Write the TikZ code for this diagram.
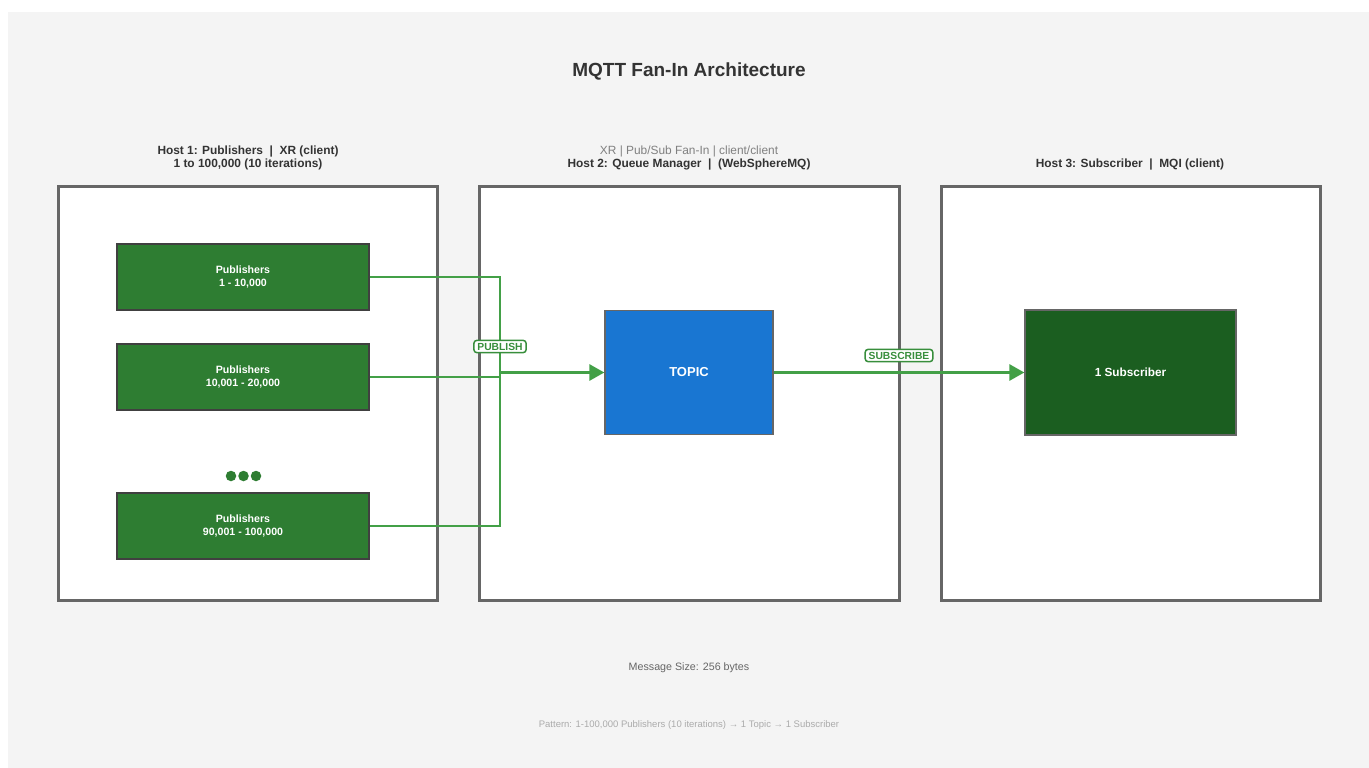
\documentclass[tikz,border=0pt]{standalone}
\usepackage{fontspec}
\setmainfont{Liberation Sans}
\usetikzlibrary{arrows.meta}
\definecolor{bg}{HTML}{F4F4F4}
\definecolor{hostline}{HTML}{666666}
\definecolor{pubfill}{HTML}{2E7D32}
\definecolor{subfill}{HTML}{1B5E20}
\definecolor{topicfill}{HTML}{1976D2}
\definecolor{linkgreen}{HTML}{43A047}
\definecolor{labgreen}{HTML}{388E3C}
\definecolor{txtdark}{HTML}{333333}
\tikzset{
  hostframe/.style={draw=hostline, line width=3pt, fill=white},
  pubbox/.style={draw=black!75, line width=1.3pt, fill=pubfill, minimum width=252pt, minimum height=66pt, text=white, font=\fontsize{10.6}{12.5}\selectfont\bfseries, align=center, inner sep=0pt},
  hostlabel/.style={font=\fontsize{11.9}{13.5}\selectfont\bfseries, text=txtdark, align=center},
  link/.style={draw=linkgreen, line width=2.9pt},
  flow/.style={link, -{Triangle[length=15pt,width=16pt]}},
  tag/.style={draw=labgreen, line width=1.5pt, fill=white, rounded corners=3pt, text=labgreen, font=\fontsize{10.3}{12}\selectfont\bfseries, inner xsep=3.5pt, inner ysep=2.5pt},
  dot/.style={circle, fill=pubfill, minimum size=10.5pt, inner sep=0pt}
}
\begin{document}
\begin{tikzpicture}[x=1pt,y=-1pt]
\useasboundingbox (0,0) rectangle (1369,768);
\fill[white] (0,0) rectangle (1369,768);
\fill[bg] (8,12) rectangle (1369,768);
% title
\node[font=\fontsize{19}{22}\selectfont\bfseries, text=txtdark] (title) at (689,71.5) {MQTT Fan-In Architecture};
% host boxes
\draw[hostframe] (58,186) rectangle (437,600);
\draw[hostframe] (479,186) rectangle (899,600);
\draw[hostframe] (941,186) rectangle (1320,600);
% host labels
\node[hostlabel] (h1) at (248,158) {Host 1: Publishers\ \ |\ \ XR (client)\\1 to 100,000 (10 iterations)};
\node[font=\fontsize{11.9}{13.5}\selectfont, text=black!50] (h2a) at (689,151.5) {XR | Pub/Sub Fan-In | client/client};
\node[hostlabel] (h2b) at (689,164.5) {Host 2: Queue Manager\ \ |\ \ (WebSphereMQ)};
\node[hostlabel] (h3) at (1130,164.5) {Host 3: Subscriber\ \ |\ \ MQI (client)};
% publishers
\node[pubbox] (p1) at (243,277) {Publishers\\1 - 10,000};
\node[pubbox] (p2) at (243,377) {Publishers\\10,001 - 20,000};
\node[pubbox] (p3) at (243,526) {Publishers\\90,001 - 100,000};
\node[dot] (d1) at (231,476) {};
\node[dot] (d2) at (243.5,476) {};
\node[dot] (d3) at (256,476) {};
% topic and subscriber
\node[draw=black!60, line width=1.3pt, fill=topicfill, minimum width=168pt, minimum height=124pt, text=white, font=\fontsize{13}{15}\selectfont\bfseries, inner sep=0pt] (topic) at (689,372.5) {TOPIC};
\node[draw=black!60, line width=1.3pt, fill=subfill, minimum width=211pt, minimum height=125pt, text=white, font=\fontsize{11.8}{14}\selectfont\bfseries, inner sep=0pt] (sub) at (1130.5,372.5) {1 Subscriber};
% connectors
\coordinate (jx) at (500,0);
\draw[link] (p1.east) -- (p1.east -| jx) -- (p3.east -| jx) -- (p3.east);
\draw[link] (p2.east) -- (p2.east -| jx);
\draw[flow] (topic.west -| jx) -- (topic.west);
\draw[flow] (topic.east) -- (sub.west);
\node[tag] (pubtag) at (500,346.5) {PUBLISH};
\node[tag] (subtag) at (899,355.5) {SUBSCRIBE};
% footer
\node[font=\fontsize{10.7}{12.5}\selectfont, text=black!60] (msg) at (689,667.5) {Message Size: 256 bytes};
\node[font=\fontsize{9.5}{11}\selectfont, text=black!33] (pat) at (689,725.5) {Pattern: 1-100,000 Publishers (10 iterations) → 1 Topic → 1 Subscriber};
\end{tikzpicture}
\end{document}
